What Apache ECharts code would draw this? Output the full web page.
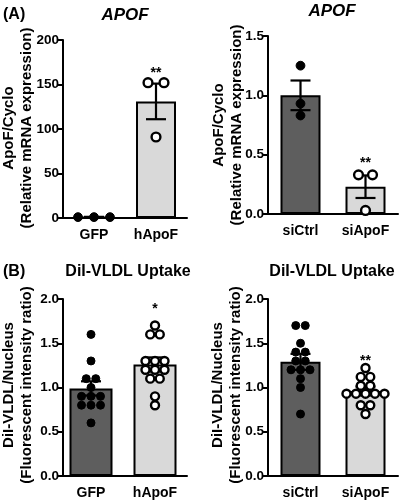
<!DOCTYPE html>
<html><head><meta charset="utf-8">
<script src="https://cdn.jsdelivr.net/npm/echarts@6/dist/echarts.min.js"></script>
<style>html,body{margin:0;padding:0;background:#fff}#c{width:401px;height:500px}</style>
</head><body><div id="c"></div>
<script>
// ---------- DATA ----------
// Panel A (left): APOF overexpression
const a1Cats = ['GFP', 'hApoF'];
const a1Mean = [1, 131];
const a1Sem = [0.3, 20];
const a1Pts = [[1, 1, 1], [152, 152, 91]];
const a1Sig = ['', '**'];
const a1SigY = [0, 163];
const a1Ticks = [0, 200, 50]; // min, max, interval

// Panel A (right): APOF knockdown
const a2Cats = ['siCtrl', 'siApoF'];
const a2Mean = [1.0, 0.23];
const a2Sem = [0.125, 0.095];
const a2Pts = [[1.25, 0.93, 0.83], [0.33, 0.33, 0.03]];
const a2Sig = ['', '**'];
const a2SigY = [0, 0.43];
const a2Ticks = [0, 1.5, 0.5];

// Panel B (left): DiI-VLDL uptake, overexpression
const b1Cats = ['GFP', 'hApoF'];
const b1Mean = [0.99, 1.26];
const b1Sem = [0.08, 0.08];
const b1Pts = [
  [1.6, 1.3, 1.1, 1.1, 1.0, 0.9, 0.9, 0.9, 0.8, 0.8, 0.8, 0.6],
  [1.7, 1.6, 1.6, 1.3, 1.3, 1.3, 1.2, 1.2, 1.2, 1.1, 1.1, 0.9, 0.8]
];
const b1Sig = ['', '*'];
const b1SigY = [0, 1.88];
const b1Ticks = [0, 2, 0.5];

// Panel B (right): DiI-VLDL uptake, knockdown
const b2Cats = ['siCtrl', 'siApoF'];
const b2Mean = [1.29, 0.96];
const b2Sem = [0.09, 0.05];
const b2Pts = [
  [1.7, 1.7, 1.5, 1.4, 1.4, 1.3, 1.3, 1.2, 1.2, 1.2, 1.1, 1.0, 0.7],
  [1.22, 1.12, 1.12, 1.02, 1.02, 0.93, 0.93, 0.93, 0.93, 0.93, 0.8, 0.8, 0.7]
];
const b2Sig = ['', '**'];
const b2SigY = [0, 1.30];
const b2Ticks = [0, 2, 0.5];

// ---------- LAYOUT / STYLE ----------
const FONT = '"Liberation Sans", Arial, Helvetica, sans-serif';
const BAR_COLORS = ['#5e5e5e', '#d9d9d9'];
const panels = [
  {cats: a1Cats, mean: a1Mean, sem: a1Sem, pts: a1Pts, sig: a1Sig, sigY: a1SigY, ticks: a1Ticks, dec: 0,
   name: ['ApoF/Cyclo', '(Relative mRNA expression)'], nameX: [9, 27], nameY: 128,
   grid: {left: 63, top: 40, width: 124, height: 178}, axisOffset: 0, barWidth: 40, spacing: 16, r: 4.4},
  {cats: a2Cats, mean: a2Mean, sem: a2Sem, pts: a2Pts, sig: a2Sig, sigY: a2SigY, ticks: a2Ticks, dec: 1,
   name: ['ApoF/Cyclo', '(Relative mRNA expression)'], nameX: [219, 237], nameY: 125,
   grid: {left: 268, top: 36, width: 130, height: 178}, axisOffset: 0, barWidth: 40, spacing: 14, r: 4.4},
  {cats: b1Cats, mean: b1Mean, sem: b1Sem, pts: b1Pts, sig: b1Sig, sigY: b1SigY, ticks: b1Ticks, dec: 1,
   name: ['DiI-VLDL/Nucleus', '(Fluorescent intensity ratio)'], nameX: [9, 27], nameY: 385,
   grid: {left: 59, top: 299, width: 128, height: 177}, axisOffset: -4, barWidth: 43, spacing: 9.5, r: 4},
  {cats: b2Cats, mean: b2Mean, sem: b2Sem, pts: b2Pts, sig: b2Sig, sigY: b2SigY, ticks: b2Ticks, dec: 1,
   name: ['DiI-VLDL/Nucleus', '(Fluorescent intensity ratio)'], nameX: [218, 236], nameY: 385,
   grid: {left: 268, top: 299, width: 130, height: 177}, axisOffset: 0, barWidth: 40, spacing: 9.5, r: 4}
];

// symmetric row offsets for equal values (swarm-like arrangement)
function rowOffsets(vals) {
  const groups = {};
  vals.forEach((v, i) => { const k = v.toFixed(3); (groups[k] = groups[k] || []).push(i); });
  const off = new Array(vals.length).fill(0);
  Object.values(groups).forEach(idx => {
    const n = idx.length;
    idx.forEach((i, k) => { off[i] = k - (n - 1) / 2; });
  });
  return off;
}

function txt(x, y, text, size, italic, align, rot) {
  return {type: 'text', x: x, y: y, rotation: rot || 0, silent: true, style: {text: text, fill: '#000', fontFamily: FONT,
    fontWeight: 'bold', fontStyle: italic ? 'italic' : 'normal', fontSize: size,
    align: align || 'center', verticalAlign: 'middle', textAlign: align || 'center', textVerticalAlign: 'middle'}};
}

const grids = [], xAxes = [], yAxes = [], series = [], graphics = [];
panels.forEach((p, gi) => {
  grids.push(Object.assign({containLabel: false, outerBoundsMode: 'none'}, p.grid));
  xAxes.push({
    gridIndex: gi, type: 'category', data: p.cats, boundaryGap: true,
    axisLine: {lineStyle: {color: '#000', width: 2}},
    axisTick: {show: false},
    axisLabel: {interval: 0, hideOverlap: false, color: '#000', fontFamily: FONT, fontWeight: 'bold', fontSize: 14, margin: 10}
  });
  yAxes.push({
    gridIndex: gi, type: 'value', min: p.ticks[0], max: p.ticks[1], interval: p.ticks[2],
    offset: p.axisOffset,
    splitLine: {show: false},
    axisLine: {show: true, lineStyle: {color: '#000', width: 2}},
    axisTick: {show: true, length: 5, lineStyle: {color: '#000', width: 2}},
    axisLabel: {color: '#000', fontFamily: FONT, fontWeight: 'bold', fontSize: 13.5, margin: 4,
      formatter: v => v.toFixed(p.dec)}
  });
  p.name.forEach((line, k) => graphics.push(txt(p.nameX[k], p.nameY, line, 15, false, 'center', Math.PI / 2)));
  series.push({
    type: 'bar', xAxisIndex: gi, yAxisIndex: gi, barWidth: p.barWidth, z: 2,
    data: p.mean.map((m, j) => ({value: m, itemStyle: {color: BAR_COLORS[j]}})),
    itemStyle: {borderColor: '#000', borderWidth: 2},
    animation: false, silent: true
  });
  series.push({
    type: 'custom', xAxisIndex: gi, yAxisIndex: gi, z: 3, animation: false, silent: true,
    data: p.mean.map((m, j) => [j, m, p.sem[j]]),
    encode: {x: 0, y: 1},
    renderItem: (params, api) => {
      const x = api.value(0), m = api.value(1), s = api.value(2);
      const t = api.coord([x, m + s]), b = api.coord([x, Math.max(m - s, 0)]);
      const hw = 10, st = {stroke: '#000', lineWidth: 2.2};
      return {type: 'group', children: [
        {type: 'line', shape: {x1: t[0], y1: t[1], x2: b[0], y2: b[1]}, style: st},
        {type: 'line', shape: {x1: t[0] - hw, y1: t[1], x2: t[0] + hw, y2: t[1]}, style: st},
        {type: 'line', shape: {x1: b[0] - hw, y1: b[1], x2: b[0] + hw, y2: b[1]}, style: st}
      ]};
    }
  });
  const dotData = [];
  p.pts.forEach((vals, j) => {
    const off = rowOffsets(vals);
    vals.forEach((v, i) => dotData.push([j, v, off[i]]));
  });
  series.push({
    type: 'custom', xAxisIndex: gi, yAxisIndex: gi, z: 4, animation: false, silent: true,
    data: dotData, encode: {x: 0, y: 1},
    renderItem: (params, api) => {
      const j = api.value(0);
      const c = api.coord([j, api.value(1)]);
      const filled = j === 0;
      return {type: 'circle', shape: {cx: c[0] + api.value(2) * p.spacing, cy: c[1], r: p.r},
        style: {fill: filled ? '#000' : '#fff', stroke: '#000', lineWidth: filled ? 1 : 2.4}};
    }
  });
  const sigData = p.sig.map((s, j) => [j, p.sigY[j], s]).filter(d => d[2]);
  series.push({
    type: 'custom', xAxisIndex: gi, yAxisIndex: gi, z: 5, animation: false, silent: true,
    data: sigData.map(d => [d[0], d[1]]),
    encode: {x: 0, y: 1},
    renderItem: (params, api) => {
      const d = sigData[params.dataIndex];
      const c = api.coord([d[0], d[1]]);
      return {type: 'text', x: c[0], y: c[1], style: {text: d[2], align: 'center', verticalAlign: 'middle',
        textAlign: 'center', textVerticalAlign: 'middle',
        fontFamily: FONT, fontWeight: 'bold', fontSize: 14, fill: '#000'}};
    }
  });
});

graphics.push(
  txt(3, 15, '(A)', 16, false, 'left'),
  txt(125, 15, 'APOF', 17, true),
  txt(332, 11, 'APOF', 17, true),
  txt(3, 272, '(B)', 16, false, 'left'),
  txt(128, 272, 'DiI-VLDL Uptake', 16, false),
  txt(332, 272, 'DiI-VLDL Uptake', 16, false)
);

const chart = echarts.init(document.getElementById('c'), null, {renderer: 'canvas'});
chart.setOption({
  animation: false,
  backgroundColor: '#fff',
  grid: grids, xAxis: xAxes, yAxis: yAxes, series: series,
  graphic: graphics
});
</script></body></html>
